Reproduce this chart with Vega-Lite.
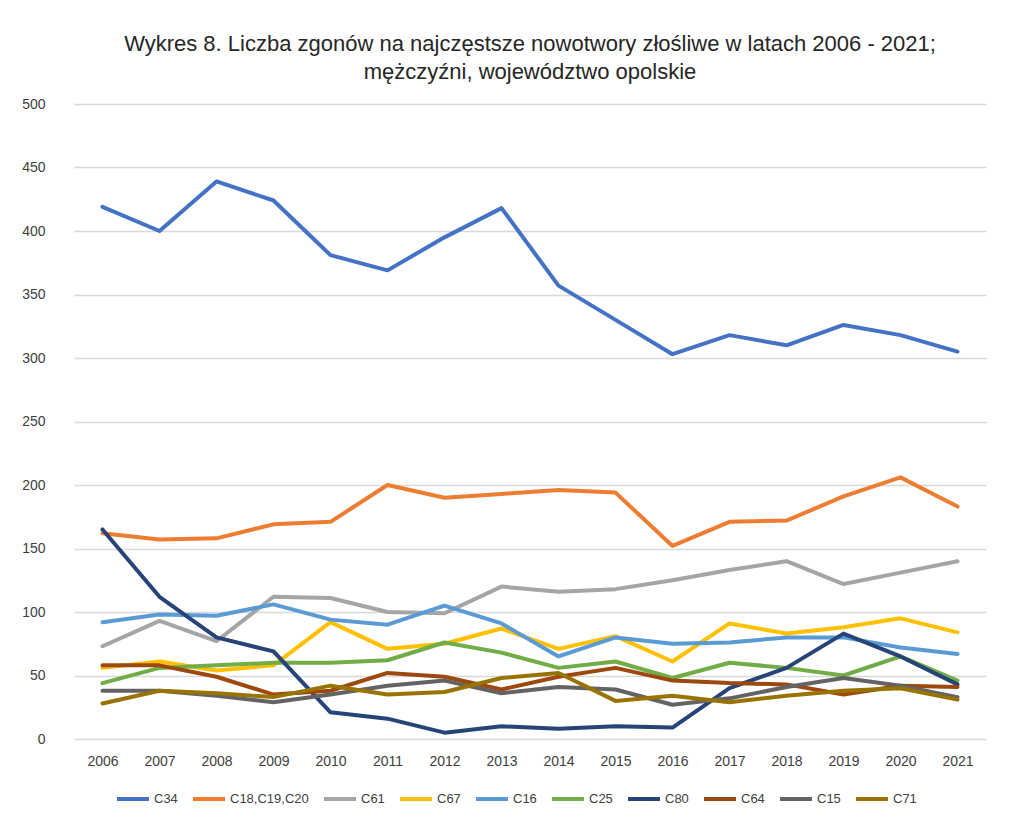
{
  "$schema": "https://vega.github.io/schema/vega-lite/v6.json",
  "width": 912,
  "height": 635,
  "autosize": {"type": "none"},
  "padding": {"left": 74, "top": 104, "right": 24, "bottom": 100},
  "background": "white",
  "title": {
    "text": ["Wykres 8. Liczba zgonów na najczęstsze nowotwory złośliwe w latach 2006 - 2021;", "mężczyźni, województwo opolskie"],
    "font": "Liberation Sans",
    "fontSize": 22,
    "fontWeight": "normal",
    "color": "#262626",
    "anchor": "middle",
    "lineHeight": 28,
    "offset": 13
  },
  "data": {"values": [
    {"s":"C34","y":"2006","v":419},{"s":"C34","y":"2007","v":400},{"s":"C34","y":"2008","v":439},{"s":"C34","y":"2009","v":424},{"s":"C34","y":"2010","v":381},{"s":"C34","y":"2011","v":369},{"s":"C34","y":"2012","v":395},{"s":"C34","y":"2013","v":418},{"s":"C34","y":"2014","v":357},{"s":"C34","y":"2015","v":330},{"s":"C34","y":"2016","v":303},{"s":"C34","y":"2017","v":318},{"s":"C34","y":"2018","v":310},{"s":"C34","y":"2019","v":326},{"s":"C34","y":"2020","v":318},{"s":"C34","y":"2021","v":305},
    {"s":"C18,C19,C20","y":"2006","v":162},{"s":"C18,C19,C20","y":"2007","v":157},{"s":"C18,C19,C20","y":"2008","v":158},{"s":"C18,C19,C20","y":"2009","v":169},{"s":"C18,C19,C20","y":"2010","v":171},{"s":"C18,C19,C20","y":"2011","v":200},{"s":"C18,C19,C20","y":"2012","v":190},{"s":"C18,C19,C20","y":"2013","v":193},{"s":"C18,C19,C20","y":"2014","v":196},{"s":"C18,C19,C20","y":"2015","v":194},{"s":"C18,C19,C20","y":"2016","v":152},{"s":"C18,C19,C20","y":"2017","v":171},{"s":"C18,C19,C20","y":"2018","v":172},{"s":"C18,C19,C20","y":"2019","v":191},{"s":"C18,C19,C20","y":"2020","v":206},{"s":"C18,C19,C20","y":"2021","v":183},
    {"s":"C61","y":"2006","v":73},{"s":"C61","y":"2007","v":93},{"s":"C61","y":"2008","v":77},{"s":"C61","y":"2009","v":112},{"s":"C61","y":"2010","v":111},{"s":"C61","y":"2011","v":100},{"s":"C61","y":"2012","v":99},{"s":"C61","y":"2013","v":120},{"s":"C61","y":"2014","v":116},{"s":"C61","y":"2015","v":118},{"s":"C61","y":"2016","v":125},{"s":"C61","y":"2017","v":133},{"s":"C61","y":"2018","v":140},{"s":"C61","y":"2019","v":122},{"s":"C61","y":"2020","v":131},{"s":"C61","y":"2021","v":140},
    {"s":"C67","y":"2006","v":56},{"s":"C67","y":"2007","v":61},{"s":"C67","y":"2008","v":54},{"s":"C67","y":"2009","v":58},{"s":"C67","y":"2010","v":92},{"s":"C67","y":"2011","v":71},{"s":"C67","y":"2012","v":75},{"s":"C67","y":"2013","v":87},{"s":"C67","y":"2014","v":71},{"s":"C67","y":"2015","v":81},{"s":"C67","y":"2016","v":61},{"s":"C67","y":"2017","v":91},{"s":"C67","y":"2018","v":83},{"s":"C67","y":"2019","v":88},{"s":"C67","y":"2020","v":95},{"s":"C67","y":"2021","v":84},
    {"s":"C16","y":"2006","v":92},{"s":"C16","y":"2007","v":98},{"s":"C16","y":"2008","v":97},{"s":"C16","y":"2009","v":106},{"s":"C16","y":"2010","v":94},{"s":"C16","y":"2011","v":90},{"s":"C16","y":"2012","v":105},{"s":"C16","y":"2013","v":91},{"s":"C16","y":"2014","v":65},{"s":"C16","y":"2015","v":80},{"s":"C16","y":"2016","v":75},{"s":"C16","y":"2017","v":76},{"s":"C16","y":"2018","v":80},{"s":"C16","y":"2019","v":80},{"s":"C16","y":"2020","v":72},{"s":"C16","y":"2021","v":67},
    {"s":"C25","y":"2006","v":44},{"s":"C25","y":"2007","v":56},{"s":"C25","y":"2008","v":58},{"s":"C25","y":"2009","v":60},{"s":"C25","y":"2010","v":60},{"s":"C25","y":"2011","v":62},{"s":"C25","y":"2012","v":76},{"s":"C25","y":"2013","v":68},{"s":"C25","y":"2014","v":56},{"s":"C25","y":"2015","v":61},{"s":"C25","y":"2016","v":48},{"s":"C25","y":"2017","v":60},{"s":"C25","y":"2018","v":56},{"s":"C25","y":"2019","v":50},{"s":"C25","y":"2020","v":65},{"s":"C25","y":"2021","v":46},
    {"s":"C80","y":"2006","v":165},{"s":"C80","y":"2007","v":112},{"s":"C80","y":"2008","v":80},{"s":"C80","y":"2009","v":69},{"s":"C80","y":"2010","v":21},{"s":"C80","y":"2011","v":16},{"s":"C80","y":"2012","v":5},{"s":"C80","y":"2013","v":10},{"s":"C80","y":"2014","v":8},{"s":"C80","y":"2015","v":10},{"s":"C80","y":"2016","v":9},{"s":"C80","y":"2017","v":40},{"s":"C80","y":"2018","v":56},{"s":"C80","y":"2019","v":83},{"s":"C80","y":"2020","v":65},{"s":"C80","y":"2021","v":43},
    {"s":"C64","y":"2006","v":58},{"s":"C64","y":"2007","v":58},{"s":"C64","y":"2008","v":49},{"s":"C64","y":"2009","v":35},{"s":"C64","y":"2010","v":38},{"s":"C64","y":"2011","v":52},{"s":"C64","y":"2012","v":49},{"s":"C64","y":"2013","v":39},{"s":"C64","y":"2014","v":49},{"s":"C64","y":"2015","v":56},{"s":"C64","y":"2016","v":46},{"s":"C64","y":"2017","v":44},{"s":"C64","y":"2018","v":43},{"s":"C64","y":"2019","v":35},{"s":"C64","y":"2020","v":42},{"s":"C64","y":"2021","v":41},
    {"s":"C15","y":"2006","v":38},{"s":"C15","y":"2007","v":38},{"s":"C15","y":"2008","v":34},{"s":"C15","y":"2009","v":29},{"s":"C15","y":"2010","v":35},{"s":"C15","y":"2011","v":42},{"s":"C15","y":"2012","v":46},{"s":"C15","y":"2013","v":36},{"s":"C15","y":"2014","v":41},{"s":"C15","y":"2015","v":39},{"s":"C15","y":"2016","v":27},{"s":"C15","y":"2017","v":32},{"s":"C15","y":"2018","v":41},{"s":"C15","y":"2019","v":48},{"s":"C15","y":"2020","v":42},{"s":"C15","y":"2021","v":33},
    {"s":"C71","y":"2006","v":28},{"s":"C71","y":"2007","v":38},{"s":"C71","y":"2008","v":36},{"s":"C71","y":"2009","v":33},{"s":"C71","y":"2010","v":42},{"s":"C71","y":"2011","v":35},{"s":"C71","y":"2012","v":37},{"s":"C71","y":"2013","v":48},{"s":"C71","y":"2014","v":52},{"s":"C71","y":"2015","v":30},{"s":"C71","y":"2016","v":34},{"s":"C71","y":"2017","v":29},{"s":"C71","y":"2018","v":34},{"s":"C71","y":"2019","v":38},{"s":"C71","y":"2020","v":40},{"s":"C71","y":"2021","v":31}
  ]},
  "mark": {"type": "line", "strokeWidth": 4, "strokeCap": "round", "strokeJoin": "round"},
  "encoding": {
    "x": {
      "field": "y", "type": "ordinal",
      "scale": {"type": "point", "padding": 0.5},
      "axis": {"title": null, "labelAngle": 0, "ticks": false, "domain": false, "grid": false,
               "labelFont": "Liberation Sans", "labelFontSize": 14, "labelColor": "#404040", "labelPadding": 15}
    },
    "y": {
      "field": "v", "type": "quantitative",
      "scale": {"domain": [0, 500], "nice": false},
      "axis": {"title": null, "values": [0,50,100,150,200,250,300,350,400,450,500], "ticks": false, "domain": false,
               "grid": true, "gridColor": "#d9d9d9", "gridWidth": 1.3,
               "labelFont": "Liberation Sans", "labelFontSize": 14, "labelColor": "#404040", "labelPadding": 29}
    },
    "color": {
      "field": "s", "type": "nominal",
      "scale": {
        "domain": ["C34","C18,C19,C20","C61","C67","C16","C25","C80","C64","C15","C71"],
        "range": ["#4472c4","#ed7d31","#a5a5a5","#ffc000","#5b9bd5","#70ad47","#264478","#9e480e","#636363","#997300"]
      },
      "legend": {
        "title": null, "orient": "none", "direction": "horizontal", "columns": 10, "gridAlign": "none",
        "legendX": 41, "legendY": 677,
        "symbolType": "stroke", "symbolSize": 1024, "symbolStrokeWidth": 4,
        "labelFont": "Liberation Sans", "labelFontSize": 13, "labelColor": "#404040",
        "labelOffset": 3, "columnPadding": 7
      }
    },
    "order": {"field": "y"}
  },
  "config": {"view": {"stroke": null}}
}
